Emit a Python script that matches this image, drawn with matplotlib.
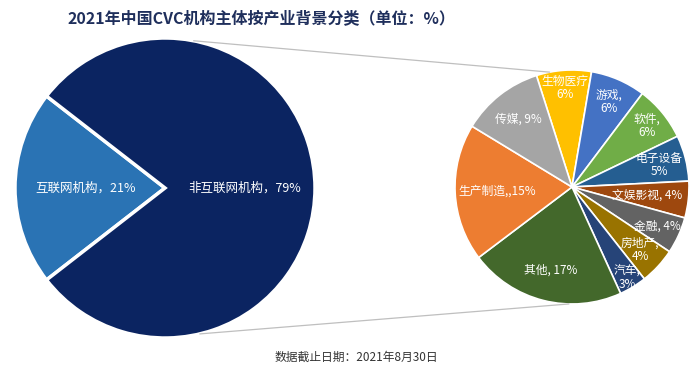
import numpy as np
import matplotlib
matplotlib.use("Agg")
import matplotlib.pyplot as plt
from matplotlib.patches import ConnectionPatch

plt.rcParams['font.family'] = ['Noto Sans CJK SC', 'DejaVu Sans']

# 左侧：互联网 / 非互联网
main_labels = ['互联网机构，21%', '非互联网机构，79%']
main_values = [21, 79]
main_colors = ['#2A73B4', '#0B2461']

# 右侧：非互联网机构按产业背景细分
sub_labels = ['生物医疗\n6%', '游戏,\n6%', '软件,\n6%', '电子设备\n5%', '文娱影视, 4%',
              '金融, 4%', '房地产,\n4%', '汽车,\n3%', '其他, 17%', '生产制造,,15%', '传媒, 9%']
sub_values = [6, 6, 6, 5, 4, 4, 4, 3, 17, 15, 9]
sub_colors = ['#FFC000', '#4472C4', '#70AD47', '#255E91', '#9E480E',
              '#636363', '#997300', '#264478', '#43682B', '#ED7D31', '#A5A5A5']
# 标签距离圆心的比例（仿 Excel 的“最佳位置”）
sub_label_r = [0.85, 0.79, 0.83, 0.77, 0.65, 0.80, 0.79, 0.91, 0.73, 0.64, 0.74]

W, H = 700, 385
fig = plt.figure(figsize=(W / 100, H / 100), dpi=100)


def px_axes(cx, cy, r):
    # 以像素为单位放置正方形坐标轴
    return fig.add_axes([(cx - r) / W, (H - cy - r) / H, 2 * r / W, 2 * r / H])


ax1 = px_axes(165, 188, 150)
ax2 = px_axes(572, 187, 117)

# 左饼图，互联网扇区朝左
start1 = 180 - main_values[0] / sum(main_values) * 360 / 2
wedges1, texts1 = ax1.pie(main_values, colors=main_colors, startangle=start1,
                          labels=main_labels, labeldistance=0.53,
                          wedgeprops=dict(edgecolor='white', linewidth=2.5),
                          textprops=dict(color='white', fontsize=9))
for t in texts1:
    t.set_ha('center')
    t.set_va('center')

# 右饼图，顺时针
start2 = 90 + 17.7
wedges2, _ = ax2.pie(sub_values, colors=sub_colors, startangle=start2, counterclock=False,
                     wedgeprops=dict(edgecolor='white', linewidth=1.2))
for w, lab, r in zip(wedges2, sub_labels, sub_label_r):
    mid = np.deg2rad((w.theta1 + w.theta2) / 2)
    ax2.text(r * np.cos(mid), r * np.sin(mid), lab, ha='center', va='center',
             color='white', fontsize=8.5, linespacing=1.05)

for ax in (ax1, ax2):
    ax.set_xlim(-1, 1)
    ax.set_ylim(-1, 1)
    ax.set_aspect('equal')
    ax.axis('off')

# 连接线
for a1, a2 in [(79, 101), (-76.6, -91.5)]:
    con = ConnectionPatch(xyA=(np.cos(np.deg2rad(a1)), np.sin(np.deg2rad(a1))), coordsA=ax1.transData,
                          xyB=(np.cos(np.deg2rad(a2)), np.sin(np.deg2rad(a2))), coordsB=ax2.transData,
                          color='#BFBFBF', linewidth=0.9)
    fig.add_artist(con)

fig.text(261 / W, 1 - 18 / H, '2021年中国CVC机构主体按产业背景分类（单位：%）',
         ha='center', va='center', fontsize=11.5, fontweight='bold', color='#1F2F5C')
fig.text(356 / W, 1 - 357 / H, '数据截止日期：2021年8月30日',
         ha='center', va='center', fontsize=8.5, color='#333333')

fig.savefig('out.png', dpi=100, facecolor='white')
